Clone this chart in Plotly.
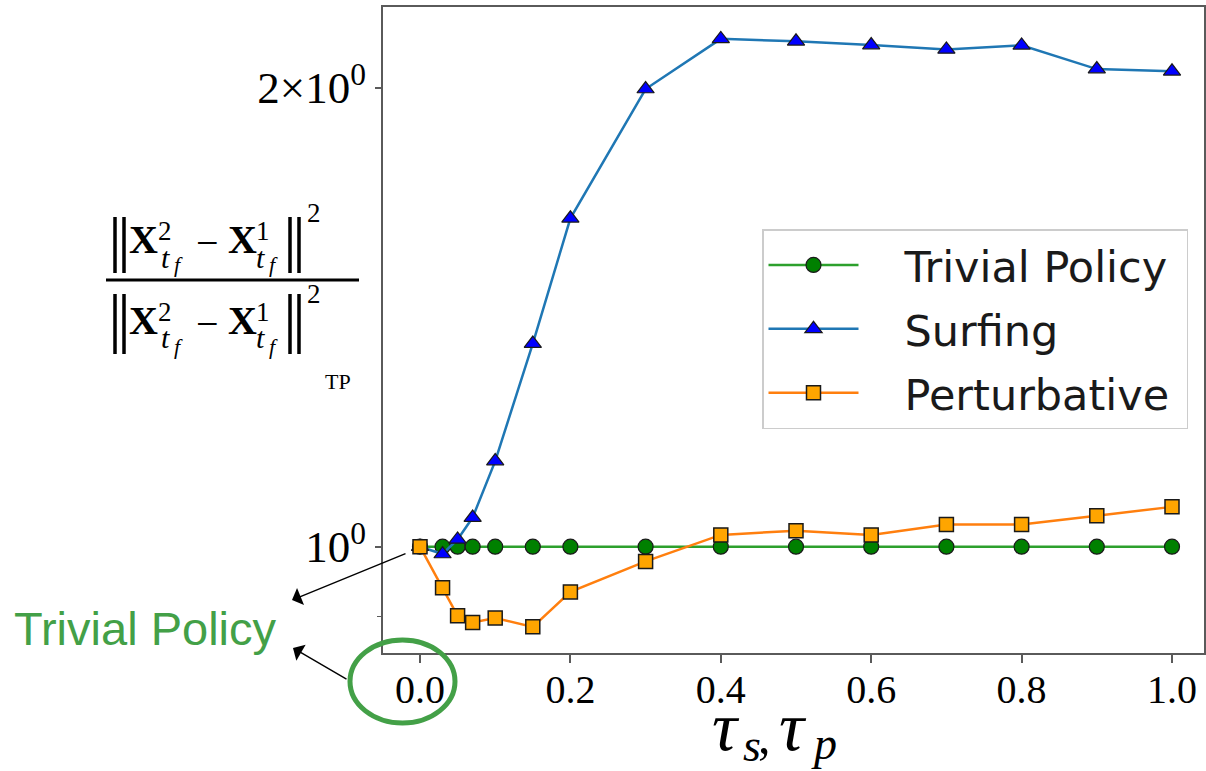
import plotly.graph_objects as go

# ---------------- data ----------------
tau = [0, 0.03, 0.05, 0.07, 0.1, 0.15, 0.2, 0.3, 0.4, 0.5, 0.6, 0.7, 0.8, 0.9, 1.0]
trivial_policy = [1.0, 1.0, 1.0, 1.0, 1.0, 1.0, 1.0, 1.0, 1.0, 1.0, 1.0, 1.0, 1.0, 1.0, 1.0]
surfing = [1.0, 0.989, 1.011, 1.045, 1.138, 1.359, 1.642, 1.996, 2.153, 2.145, 2.133, 2.119, 2.132, 2.057, 2.050]
perturbative = [1.0, 0.940, 0.901, 0.892, 0.898, 0.886, 0.934, 0.978, 1.018, 1.0245, 1.018, 1.034, 1.034, 1.048, 1.062]

series_names = ["Trivial Policy", "Surfing", "Perturbative"]
x_tickvals = [0.0, 0.2, 0.4, 0.6, 0.8, 1.0]
x_ticktext = ["0.0", "0.2", "0.4", "0.6", "0.8", "1.0"]
y_tickvals = [1, 2]
y_ticktext = ["10<sup>0</sup>", "2×10<sup>0</sup>"]
y_minor = [0.9]

# ---------------- layout geometry ----------------
W, H = 1206, 771
L, R, T, B = 383, 1204, 7, 653
pw, ph = R - L, B - T


def PX(x):
    return (x - L) / pw


def PY(y):
    return (B - y) / ph


GREEN_TXT = "#43a047"
SERIF = "Liberation Serif"
PAD = "\u00a0\u00a0\u00a0"

fig = go.Figure()
fig.add_trace(go.Scatter(
    x=tau, y=trivial_policy, name=PAD + series_names[0] + "\u00a0", mode="lines+markers",
    legendgroup="a",
    line=dict(color="#2ca02c", width=2.5),
    marker=dict(symbol="circle", size=15, color="#008000", line=dict(color="#1a1a1a", width=1.2)),
))
fig.add_trace(go.Scatter(
    x=tau, y=surfing, name=PAD + series_names[1], mode="lines+markers",
    legendgroup="b",
    line=dict(color="#1f77b4", width=2.5),
    marker=dict(symbol="triangle-up", size=15, color="#0000ff", line=dict(color="#1a1a1a", width=1.2)),
))
fig.add_trace(go.Scatter(
    x=tau, y=perturbative, name=PAD + series_names[2], mode="lines+markers",
    legendgroup="c",
    line=dict(color="#ff7f0e", width=2.5),
    marker=dict(symbol="square", size=14, color="#ffa500", line=dict(color="#1a1a1a", width=1.5)),
))

x0 = -(420 - L) / 752
x1 = (R - 420) / 752
ylo = -(B - 546.7) / 1524.8
yhi = (546.7 - T) / 1524.8

fig.update_layout(
    template="none",
    width=W, height=H,
    margin=dict(l=L, r=W - R, t=T, b=H - B, pad=0),
    paper_bgcolor="white", plot_bgcolor="white",
    showlegend=True,
    legend=dict(
        x=PX(762), y=PY(229), xanchor="left", yanchor="top",
        bgcolor="white", bordercolor="#cccccc", borderwidth=1.5,
        font=dict(family="DejaVu Sans", size=43, color="#1a1a1a"),
        itemwidth=90, tracegroupgap=5, traceorder="grouped",
    ),
    xaxis=dict(
        automargin=False,
        range=[x0, x1], showgrid=False, zeroline=False,
        showline=True, linecolor="#5a5a5a", linewidth=2, mirror=True,
        ticks="outside", ticklen=8, tickwidth=1.5, tickcolor="#5a5a5a",
        tickmode="array", tickvals=x_tickvals, ticktext=x_ticktext,
        tickfont=dict(family=SERIF, size=40, color="black"),
        ticklabelstandoff=-8,
    ),
    yaxis=dict(
        automargin=False,
        type="log", range=[ylo, yhi], showgrid=False, zeroline=False,
        showline=True, linecolor="#5a5a5a", linewidth=2, mirror=True,
        ticks="outside", ticklen=6, tickwidth=1.5, tickcolor="#5a5a5a",
        tickmode="array", tickvals=y_tickvals, ticktext=y_ticktext,
        tickfont=dict(family=SERIF, size=45, color="black"),
        minor=dict(tickvals=y_minor, ticks="outside", ticklen=4, tickcolor="#5a5a5a", tickwidth=1.2),
    ),
)

ann = []
shapes = []


def txt(x, y, s, size, family=SERIF, color="black", xanchor="center"):
    ann.append(dict(x=PX(x), y=PY(y), xref="paper", yref="paper", text=s, showarrow=False,
                    xanchor=xanchor, yanchor="middle",
                    font=dict(family=family, size=size, color=color)))


def line(xa, ya, xb, yb, w, color="black"):
    shapes.append(dict(type="line", xref="paper", yref="paper",
                       x0=PX(xa), y0=PY(ya), x1=PX(xb), y1=PY(yb),
                       line=dict(color=color, width=w)))


# ---- y-axis label: fraction of norms ----
for dy, top, bot in [(0, 217, 273), (81, 294, 354)]:
    for bx in (115, 124, 290, 299):
        line(bx, top, bx, bot, 3.5)
    txt(143, 240 + dy, "<b>X</b>", 40)
    txt(165, 231 + dy, "2", 27)
    txt(166, 257 + dy, "<i>t</i>", 30)
    txt(178, 265 + dy, "<i>f</i>", 22)
    txt(207, 242 + dy, "−", 40)
    txt(242, 240 + dy, "<b>X</b>", 40)
    txt(263, 231 + dy, "1", 27)
    txt(260, 257 + dy, "<i>t</i>", 30)
    txt(273, 265 + dy, "<i>f</i>", 22)
    txt(314, 213 + dy, "2", 27)
line(106, 280, 359, 280, 3)
txt(338, 381, "TP", 22)

# ---- x-axis title: tau_s, tau_p ----
txt(726, 726, "<i>τ</i>", 70)
txt(752, 745, "<i>s</i>", 46)
txt(764, 736, ",", 50)
txt(793, 726, "<i>τ</i>", 70)
txt(824, 743, "<i>p</i>", 46)

# ---- Trivial policy callout ----
txt(12, 628, "Trivial Policy", 47, family="Liberation Sans", color=GREEN_TXT, xanchor="left")
for (hx, hy, tx, ty) in [(292, 600, 407, 553), (293, 648, 348, 680)]:
    ann.append(dict(x=PX(hx), y=PY(hy), xref="paper", yref="paper", text="",
                    showarrow=True, ax=tx - hx, ay=ty - hy, axref="pixel", ayref="pixel",
                    arrowhead=1, arrowsize=2.2, arrowwidth=1.4, arrowcolor="black",
                    standoff=0, startstandoff=0))
shapes.append(dict(type="circle", xref="paper", yref="paper",
                   x0=PX(350), x1=PX(455), y0=PY(723), y1=PY(640),
                   line=dict(color=GREEN_TXT, width=5)))

fig.update_layout(annotations=ann, shapes=shapes)
fig.write_html("out.html", config={"displayModeBar": False},
               post_script="document.body.style.margin='0';document.body.style.overflow='hidden';")
